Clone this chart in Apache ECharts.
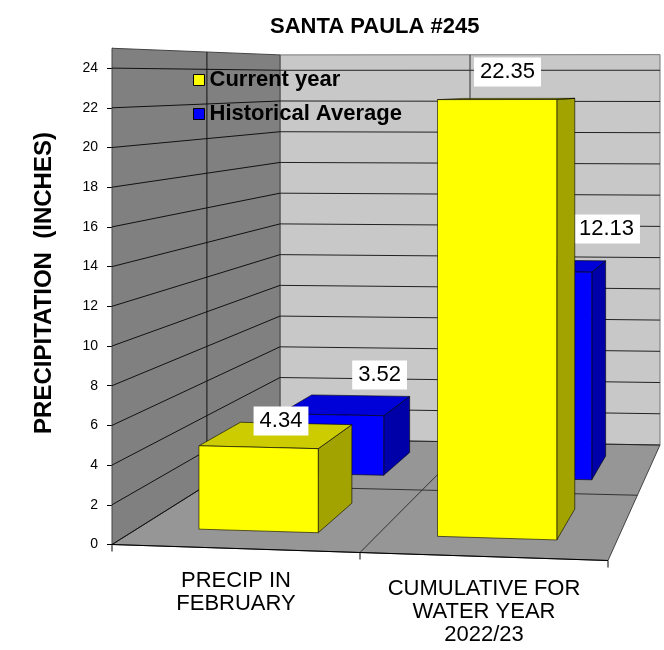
<!DOCTYPE html>
<html><head><meta charset="utf-8">
<script src="https://cdn.jsdelivr.net/npm/echarts@6/dist/echarts.min.js"></script>
<style>html,body{margin:0;padding:0;background:#fff}#c{width:664px;height:650px}</style>
</head><body><div id="c"></div>
<script>
// ---- data ----
const categories = ['PRECIP IN\nFEBRUARY', 'CUMULATIVE FOR\nWATER YEAR\n2022/23'];
const currentYear = [4.34, 22.35];
const historicalAverage = [3.52, 12.13];
const yTicks = [0, 2, 4, 6, 8, 10, 12, 14, 16, 18, 20, 22, 24];
const seriesNames = ['Current year', 'Historical Average'];
const chartTitle = 'SANTA PAULA #245';
const yTitle = 'PRECIPITATION  (INCHES)';

// ---- layout / style ----
const Y_MAX = 25;
const PROJ = {
  shearF: 16, growF: 0.0378,
  backDx: 168, backW: 380, backDy: -105.5, shearB: 6, ratioB: 0.774, growB: 0.0163,
  persp: 0.77
};
const barStyle = [
  { front: '#ffff00', top: '#cccc00', side: '#a3a300' },
  { front: '#0000ff', top: '#0000d8', side: '#0000a8' }
];
const labelNudge = [[[3, -14], [-1, -27]], [[33, -30], [58, -37]]];
const FONT = 'Liberation Sans, Arial, sans-serif';

function makeProj(api, params) {
  const cs = params.coordSys;
  const gx = cs.x, gy = cs.y, gw = cs.width, gh = cs.height;
  const base = gy + gh;
  return function (u, v, z) {
    const s = base - api.coord([0, v])[1];
    const fx = gx + gw * u;
    const fy = base + PROJ.shearF * u - s * (1 + PROJ.growF * u);
    const bx = gx + PROJ.backDx + PROJ.backW * u;
    const by = base + PROJ.backDy + PROJ.shearB * u - s * PROJ.ratioB * (1 + PROJ.growB * u);
    const w = z / (z + PROJ.persp * (1 - z));
    return [fx + w * (bx - fx), fy + w * (by - fy)];
  };
}
const poly = (pts, fill, stroke, lw) => ({ type: 'polygon', shape: { points: pts }, style: { fill: fill, stroke: stroke || 'none', lineWidth: lw || 1 } });
const seg = (a, b, color, lw) => ({ type: 'line', shape: { x1: a[0], y1: a[1], x2: b[0], y2: b[1] }, style: { stroke: color || '#000', lineWidth: lw || 1 } });

function renderScene(params, api) {
  const pr = makeProj(api, params);
  const cs = params.coordSys;
  const u0 = (api.coord([0, 0])[0] - cs.x) / cs.width;
  const band = api.size([1, 0])[0] / cs.width;
  const uDiv = u0 + band / 2;
  const ch = [];
  ch.push(poly([pr(0, 0, 0), pr(1, 0, 0), pr(1, 0, 1), pr(0, 0, 1)], '#969696', '#444', 1));
  ch.push(poly([pr(0, 0, 1), pr(1, 0, 1), pr(1, Y_MAX, 1), pr(0, Y_MAX, 1)], '#c8c8c8', '#777', 1));
  ch.push(poly([pr(0, 0, 0), pr(0, 0, 1), pr(0, Y_MAX, 1), pr(0, Y_MAX, 0)], '#808080', '#444', 1));
  yTicks.forEach(t => {
    ch.push(seg(pr(0, t, 0), pr(0, t, 1), '#111'));
    ch.push(seg(pr(0, t, 1), pr(1, t, 1), '#222'));
  });
  ch.push(seg(pr(0, 0, 0.5), pr(0, Y_MAX, 0.5), '#111'));
  ch.push(seg(pr(uDiv, 0, 1), pr(uDiv, Y_MAX, 1), '#333'));
  ch.push(seg(pr(uDiv, 0, 0), pr(uDiv, 0, 1), '#333'));
  ch.push(seg(pr(0, 0, 0.5), pr(1, 0, 0.5), '#333'));
  [0, uDiv, 1].forEach(u => {
    const p = pr(u, 0, 0);
    ch.push(seg(p, [p[0], p[1] + 7], '#000'));
  });
  ch.push(seg(pr(0, 0, 0), pr(1, 0, 0), '#000'));
  return { type: 'group', children: ch };
}

function renderBar(si) {
  return function (params, api) {
    const pr = makeProj(api, params);
    const cs = params.coordSys;
    const cat = api.value(0), val = api.value(1);
    const uc = (api.coord([cat, 0])[0] - cs.x) / cs.width;
    const hw = api.size([1, 0])[0] / cs.width * 0.25;
    const zc = (si + 0.5) / 2, hd = 0.12;
    const u0 = uc - hw, u1 = uc + hw, z0 = zc - hd, z1 = zc + hd;
    const st = barStyle[si];
    const edge = 'rgba(0,0,0,0.75)';
    const ch = [
      poly([pr(u1, 0, z0), pr(u1, 0, z1), pr(u1, val, z1), pr(u1, val, z0)], st.side, edge, 0.8),
      poly([pr(u0, val, z0), pr(u1, val, z0), pr(u1, val, z1), pr(u0, val, z1)], st.top, edge, 0.8),
      poly([pr(u0, 0, z0), pr(u1, 0, z0), pr(u1, val, z0), pr(u0, val, z0)], st.front, edge, 0.8)
    ];
    const tc = pr(uc, val, zc);
    const nd = labelNudge[si][params.dataIndex];
    ch.push({
      type: 'text', z2: 10,
      style: {
        text: val.toFixed(2), x: tc[0] + nd[0], y: tc[1] + nd[1], align: 'center', verticalAlign: 'middle',
        fontSize: 22, fontFamily: FONT, fill: '#000',
        backgroundColor: '#fff', padding: [4, 6, 3, 6]
      }
    });
    return { type: 'group', children: ch };
  };
}

const chart = echarts.init(document.getElementById('c'));
chart.setOption({
  animation: false,
  backgroundColor: '#fff',
  textStyle: { fontFamily: FONT },
  title: { text: chartTitle, left: 265, top: 11, textStyle: { fontSize: 22, fontWeight: 'bold', color: '#000', fontFamily: FONT } },
  legend: {
    data: seriesNames, orient: 'vertical', left: 188, top: 64, itemWidth: 11, itemHeight: 11, itemGap: 12,
    icon: 'rect', textStyle: { fontSize: 22, fontWeight: 'bold', color: '#000', lineHeight: 22 },
    itemStyle: { borderColor: '#000', borderWidth: 1 }
  },
  grid: { left: 112, top: 48.25, width: 496, height: 496.25, outerBoundsMode: 'none' },
  xAxis: {
    type: 'category', data: categories,
    axisLine: { show: false }, axisTick: { show: false }, splitLine: { show: false },
    axisLabel: {
      interval: 0, margin: 25, fontSize: 22, lineHeight: 23, color: '#000',
      formatter: (v, i) => i === 1 ? '{gap| }\n' + v : v,
      rich: { gap: { fontSize: 2, lineHeight: 8 } }
    }
  },
  yAxis: {
    type: 'value', min: 0, max: Y_MAX, interval: 2,
    axisLine: { show: true, lineStyle: { color: '#000', width: 1 } },
    axisTick: { show: true, length: 5, customValues: yTicks, lineStyle: { color: '#000' } },
    axisLabel: { customValues: yTicks, margin: 14, fontSize: 14, color: '#000' },
    splitLine: { show: false }
  },
  graphic: [{
    type: 'text', x: 44, y: 283, rotation: Math.PI / 2,
    style: { text: yTitle, align: 'center', verticalAlign: 'middle', fontSize: 24, fontWeight: 'bold', fill: '#000', fontFamily: FONT }
  }],
  series: [
    { type: 'custom', name: 'scene', z: 1, silent: true, renderItem: renderScene, data: [[0, 0]], encode: { x: 0, y: 1 } },
    { type: 'custom', name: seriesNames[0], z: 3, renderItem: renderBar(0), itemStyle: { color: barStyle[0].front },
      data: currentYear.map((v, i) => [i, v]), encode: { x: 0, y: 1 } },
    { type: 'custom', name: seriesNames[1], z: 2, renderItem: renderBar(1), itemStyle: { color: barStyle[1].front },
      data: historicalAverage.map((v, i) => [i, v]), encode: { x: 0, y: 1 } }
  ]
});
</script></body></html>
